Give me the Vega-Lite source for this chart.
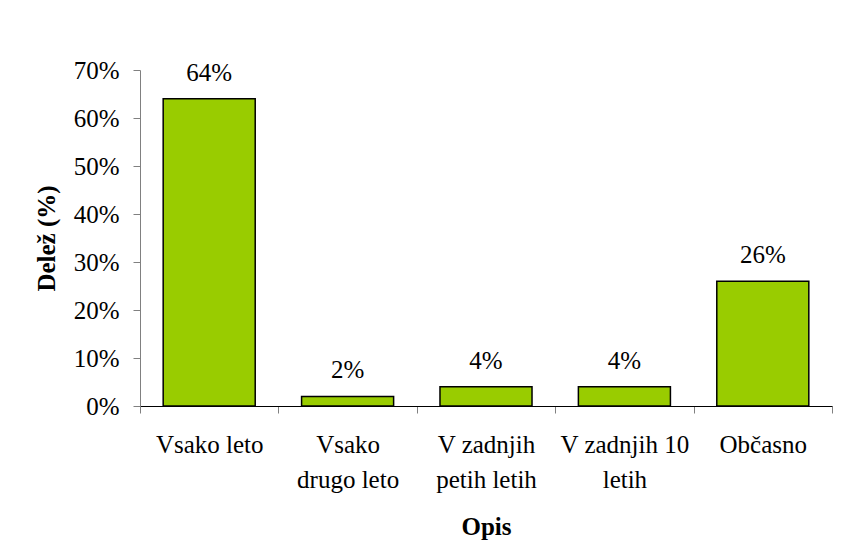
{
  "$schema": "https://vega.github.io/schema/vega-lite/v6.json",
  "width": 692,
  "height": 336,
  "autosize": "none",
  "padding": {"left": 140, "top": 70, "right": 9, "bottom": 136},
  "background": "white",
  "config": {
    "view": {"stroke": null},
    "font": "Liberation Serif",
    "axis": {"labelFont": "Liberation Serif", "titleFont": "Liberation Serif", "labelColor": "black", "titleColor": "black", "grid": false}
  },
  "data": {
    "values": [
      {"Opis": "Vsako leto", "Delez": 0.64},
      {"Opis": "Vsako drugo leto", "Delez": 0.02},
      {"Opis": "V zadnjih petih letih", "Delez": 0.04},
      {"Opis": "V zadnjih 10 letih", "Delez": 0.04},
      {"Opis": "Občasno", "Delez": 0.26}
    ]
  },
  "encoding": {
    "x": {
      "field": "Opis",
      "type": "nominal",
      "sort": null,
      "scale": {"paddingInner": 0, "paddingOuter": 0},
      "axis": {
        "title": "Opis",
        "titleFontSize": 25,
        "titleFontWeight": "bold",
        "titlePadding": 22,
        "labelFontSize": 25,
        "labelAngle": 0,
        "labelPadding": 19,
        "labelLineHeight": 35,
        "labelBaseline": "top",
        "tickBand": "extent",
        "tickSize": 7,
        "tickColor": "#808080",
        "domainColor": "black",
        "labelExpr": "datum.value == 'Vsako drugo leto' ? ['Vsako', 'drugo leto'] : datum.value == 'V zadnjih petih letih' ? ['V zadnjih', 'petih letih'] : datum.value == 'V zadnjih 10 letih' ? ['V zadnjih 10', 'letih'] : datum.value"
      }
    },
    "y": {
      "field": "Delez",
      "type": "quantitative",
      "scale": {"domain": [0, 0.7], "nice": false},
      "axis": {
        "title": "Delež (%)",
        "titleFontSize": 25,
        "titleFontWeight": "bold",
        "titlePadding": 14,
        "labelFontSize": 25,
        "labelPadding": 14,
        "format": ".0%",
        "values": [0, 0.1, 0.2, 0.3, 0.4, 0.5, 0.6, 0.7],
        "tickSize": 7,
        "tickColor": "#808080",
        "domainColor": "#808080"
      }
    }
  },
  "layer": [
    {
      "mark": {"type": "bar", "color": "#99CC00", "stroke": "black", "strokeWidth": 1.5, "width": {"band": 0.665}}
    },
    {
      "mark": {"type": "text", "font": "Liberation Serif", "fontSize": 25, "baseline": "alphabetic", "dy": -18, "color": "black"},
      "encoding": {"text": {"field": "Delez", "type": "quantitative", "format": ".0%"}}
    }
  ]
}
